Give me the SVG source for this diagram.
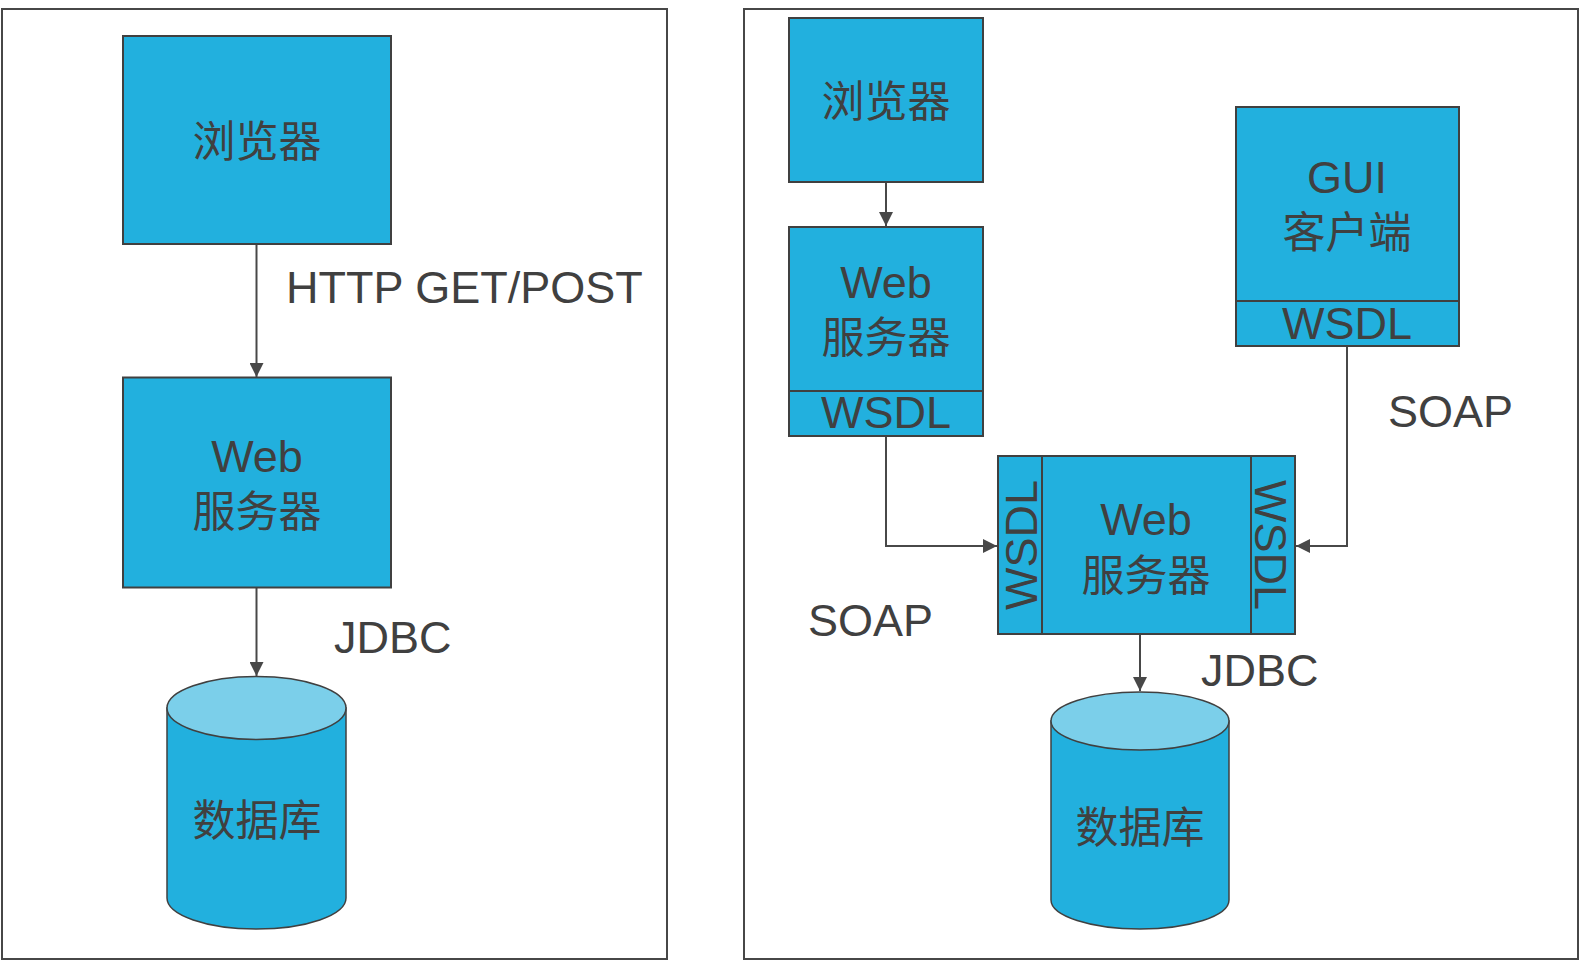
<svg xmlns="http://www.w3.org/2000/svg" width="1595" height="966" viewBox="0 0 1595 966">
<defs>
<style>
.frame{fill:#ffffff;stroke:#474747;stroke-width:2}
.box{fill:#22B0DE;stroke:#404040;stroke-width:2}
.div{fill:none;stroke:#404040;stroke-width:2}
.cylb{fill:#22B0DE;stroke:#404040;stroke-width:1.5}
.cylt{fill:#7BCFEA;stroke:#404040;stroke-width:1.5}
.conn{fill:none;stroke:#484848;stroke-width:2}
.lat{font-family:"Liberation Sans",Arial,sans-serif;font-size:45px;fill:#404040}
.cjk{font-family:"Noto Sans CJK SC","Liberation Sans",sans-serif;font-size:43px;fill:#404040}
.mid{text-anchor:middle}
</style>
<marker id="arr" viewBox="0 0 14 14" refX="14" refY="7" markerWidth="14" markerHeight="14" markerUnits="userSpaceOnUse" orient="auto">
<path d="M0,0 L14,7 L0,14 Z" fill="#484848"/>
</marker>
</defs>
<rect width="1595" height="966" fill="#ffffff"/>
<rect id="frame-left" class="frame" x="2" y="9" width="665" height="950"/>
<rect id="frame-right" class="frame" x="744" y="9" width="834" height="950"/>

<g id="connectors">
<line class="conn" x1="256.5" y1="244" x2="256.5" y2="377" marker-end="url(#arr)"/>
<line class="conn" x1="256.5" y1="588" x2="256.5" y2="676" marker-end="url(#arr)"/>
<line class="conn" x1="886" y1="182" x2="886" y2="226" marker-end="url(#arr)"/>
<polyline class="conn" points="886,436 886,546 997,546" marker-end="url(#arr)"/>
<polyline class="conn" points="1347,346 1347,546 1296,546" marker-end="url(#arr)"/>
<line class="conn" x1="1140" y1="634" x2="1140" y2="691" marker-end="url(#arr)"/>
</g>

<g id="label-http"><text class="lat" x="286" y="303">HTTP GET/POST</text></g>
<g id="label-jdbc-left"><text class="lat" x="334" y="653">JDBC</text></g>
<g id="label-soap-right"><text class="lat" x="1388" y="427">SOAP</text></g>
<g id="label-soap-left"><text class="lat" x="808" y="636">SOAP</text></g>
<g id="label-jdbc-right"><text class="lat" x="1201" y="686">JDBC</text></g>

<g id="left-browser">
<rect class="box" x="123" y="36" width="268" height="208"/>
<text class="cjk mid" x="257" y="157">浏览器</text>
</g>
<g id="left-webserver">
<rect class="box" x="123" y="377.5" width="268" height="210"/>
<text class="lat mid" x="257" y="472">Web</text>
<text class="cjk mid" x="257" y="527">服务器</text>
</g>
<g id="left-db">
<path class="cylb" d="M167,708 L167,898 A89.5,31 0 0 0 346,898 L346,708 Z"/>
<ellipse class="cylt" cx="256.5" cy="708" rx="89.5" ry="31.5"/>
<text class="cjk mid" x="257" y="836">数据库</text>
</g>

<g id="right-browser">
<rect class="box" x="789" y="18" width="194" height="164"/>
<text class="cjk mid" x="886" y="117">浏览器</text>
</g>
<g id="right-webserver-top">
<rect class="box" x="789" y="227" width="194" height="209"/>
<line class="div" x1="789" y1="391" x2="983" y2="391"/>
<text class="lat mid" x="886" y="298">Web</text>
<text class="cjk mid" x="886" y="353">服务器</text>
<text class="lat mid" x="886" y="428">WSDL</text>
</g>
<g id="gui-client">
<rect class="box" x="1236" y="107" width="223" height="239"/>
<line class="div" x1="1236" y1="301" x2="1459" y2="301"/>
<text class="lat mid" x="1347" y="193">GUI</text>
<text class="cjk mid" x="1347" y="248">客户端</text>
<text class="lat mid" x="1347" y="339">WSDL</text>
</g>
<g id="right-webserver-center">
<rect class="box" x="998" y="456" width="297" height="178"/>
<line class="div" x1="1042" y1="456" x2="1042" y2="634"/>
<line class="div" x1="1251" y1="456" x2="1251" y2="634"/>
<text class="lat mid" x="1146" y="535">Web</text>
<text class="cjk mid" x="1146" y="591">服务器</text>
<text class="lat mid" transform="translate(1037,545) rotate(-90)" x="0" y="0">WSDL</text>
<text class="lat mid" transform="translate(1255,545) rotate(90)" x="0" y="0">WSDL</text>
</g>
<g id="right-db">
<path class="cylb" d="M1051,721 L1051,900 A89,29 0 0 0 1229,900 L1229,721 Z"/>
<ellipse class="cylt" cx="1140" cy="721" rx="89" ry="29"/>
<text class="cjk mid" x="1140" y="843">数据库</text>
</g>
</svg>
